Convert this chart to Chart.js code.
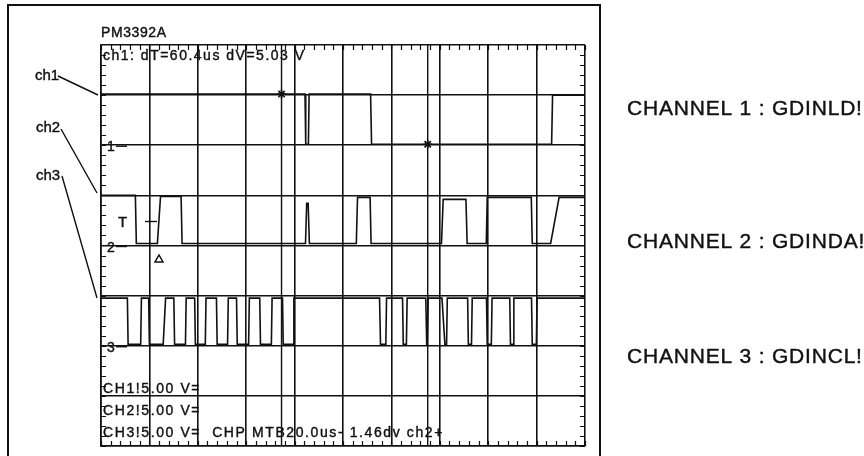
<!DOCTYPE html>
<html>
<head>
<meta charset="utf-8">
<script src="https://cdn.jsdelivr.net/npm/chart.js@4"></script>
<style>html,body{margin:0;padding:0;background:#fff}</style>
</head>
<body>
<canvas id="scope" width="864" height="456"></canvas>
<script>
// time axis in us (20 us/div), levels in volts (5 V/div)
var ch1Time = [0, 84.3, 84.6, 85.7, 86.0, 111.4, 111.8, 186.2, 186.6, 200];
var ch1Volt = [5.1, 5.1, 0.1, 0.1, 5.1, 5.1, 0.1, 0.1, 5.0, 5.0];

var ch2Time = [0, 14.2, 14.6, 23.3, 24.6, 33.1, 33.5, 84.5, 85.0, 85.6, 86.1, 105.5, 106.0, 111.2, 111.6,
               140.7, 141.4, 150.8, 151.3, 159.2, 159.6, 177.8, 178.2, 185.8, 189.3, 200];
var ch2Volt = [5.0, 5.0, 0.2, 0.2, 4.9, 4.9, 0.2, 0.2, 4.2, 4.2, 0.2, 0.2, 4.8, 4.8, 0.2,
               0.2, 4.6, 4.6, 0.2, 0.2, 4.8, 4.8, 0.2, 0.2, 4.8, 4.8];

var ch3Time = [0, 10.9, 11.2, 16.4, 16.7, 19.7, 20.0, 25.7, 26.7, 30.1, 30.4, 34.9, 35.2, 38.7, 39.0, 43.1,
               43.4, 47.7, 48.0, 52.3, 52.6, 56.0, 56.3, 61.0, 61.3, 65.6, 65.9, 70.4, 70.7, 75.0, 75.3, 79.4,
               79.7, 115.1, 115.5, 117.7, 118.0, 124.6, 124.9, 126.2, 126.5, 134.2, 134.6, 134.9, 135.2, 140.9,
               142.1, 142.8, 143.1, 151.5, 151.8, 153.1, 153.4, 159.3, 159.6, 161.3, 161.6, 168.9, 169.2, 170.3,
               170.6, 177.9, 178.2, 179.9, 180.2, 200];
var ch3Volt = [4.75, 4.75, 0.15, 0.15, 4.75, 4.75, 0.15, 0.15, 4.75, 4.75, 0.15, 0.15, 4.75, 4.75, 0.15, 0.15,
               4.75, 4.75, 0.15, 0.15, 4.75, 4.75, 0.15, 0.15, 4.75, 4.75, 0.15, 0.15, 4.75, 4.75, 0.15, 0.15,
               4.75, 4.75, 0.15, 0.15, 4.75, 4.75, 0.15, 0.15, 4.75, 4.75, 0.15, 0.15, 4.75, 4.75,
               0.15, 0.15, 4.75, 4.75, 0.15, 0.15, 4.75, 4.75, 0.15, 0.15, 4.75, 4.75, 0.15, 0.15,
               4.75, 4.75, 0.15, 0.15, 4.75, 4.75];

var cursorTime = [74.6, 135.0];
var cursorVolt = [5.1, 0.1];

var channelGround = [6, 4, 2];   // ground marker of ch1..ch3, in divisions
var voltsPerDiv = 5;
var timeSpan = 200, divsY = 8;

var channelNames = ['CHANNEL 1 : GDINLD!', 'CHANNEL 2 : GDINDA!', 'CHANNEL 3 : GDINCL!'];
var readout = ['CH1!5.00 V=', 'CH2!5.00 V=', 'CH3!5.00 V=  CHP MTB20.0us- 1.46dv ch2+'];

function trace(times, volts, ground) {
    return times.map(function(t, i) {
        return { x: t, y: ground + volts[i] / voltsPerDiv };
    });
}

function cursorLine(t) {
    return [{ x: t, y: 0 }, { x: t, y: divsY }];
}

var lineStyle = { showLine: true, borderColor: '#111', borderWidth: 1.6, pointRadius: 0, tension: 0, fill: false };

// scanned print looks heavy, so text gets a thin outline too
function text(c, s, x, y) {
    c.fillText(s, x, y);
    c.strokeText(s, x, y);
}

var scopeDecor = {
    id: 'scopeDecor',
    beforeDraw: function(chart) {
        var c = chart.ctx;
        c.save();
        c.fillStyle = '#fff';
        c.fillRect(0, 0, chart.width, chart.height);
        c.restore();
    },
    afterDraw: function(chart) {
        var c = chart.ctx, a = chart.chartArea;
        var xs = chart.scales.x, ys = chart.scales.y;
        c.save();
        c.strokeStyle = '#111';
        c.fillStyle = '#111';

        // graticule border ticks
        c.lineWidth = 1.2;
        c.beginPath();
        for (var t = 0; t <= timeSpan; t += 4) {
            var px = Math.round(xs.getPixelForValue(t)) + 0.5;
            c.moveTo(px, a.top); c.lineTo(px, a.top + 5);
            c.moveTo(px, a.bottom); c.lineTo(px, a.bottom - 5);
        }
        for (var d = 0; d <= divsY; d += 0.2) {
            var py = Math.round(ys.getPixelForValue(d)) + 0.5;
            c.moveTo(a.left, py); c.lineTo(a.left + 5, py);
            c.moveTo(a.right, py); c.lineTo(a.right - 5, py);
        }
        c.stroke();

        // outer frame
        c.lineWidth = 2;
        c.strokeRect(8, 5, 592, 470);

        // texts
        c.textBaseline = 'alphabetic';
        c.lineWidth = 0.4;
        c.font = '14px "Liberation Sans", Arial, sans-serif';
        c.letterSpacing = '0.6px';
        text(c, 'PM3392A', a.left, 37);

        c.letterSpacing = '1.5px';
        text(c, 'ch1: dT=60.4us dV=5.03 V', a.left + 2, 60);

        c.font = '14px "Liberation Sans", Arial, sans-serif';
        c.letterSpacing = '1.6px';
        text(c, readout[0], a.left + 2, 393);
        text(c, readout[1], a.left + 2, 415);
        text(c, readout[2], a.left + 2, 437);

        // ground markers
        c.font = '14px "Liberation Sans", Arial, sans-serif';
        c.letterSpacing = '0px';
        channelGround.forEach(function(g, i) {
            var gy = ys.getPixelForValue(g);
            text(c, String(i + 1), a.left + 6, gy + 6);
            c.save();
            c.lineWidth = 1.4;
            c.beginPath(); c.moveTo(a.left + 15, gy + 1); c.lineTo(a.left + 26, gy + 1); c.stroke();
            c.restore();
        });

        // trigger markers
        c.font = '15px "Liberation Sans", Arial, sans-serif';
        text(c, 'T', a.left + 17, 227);
        c.lineWidth = 1.4;
        c.beginPath(); c.moveTo(a.left + 44, 221.5); c.lineTo(a.left + 56, 221.5); c.stroke();
        c.lineWidth = 1.5;
        c.beginPath();
        c.moveTo(a.left + 58, 255); c.lineTo(a.left + 62, 262); c.lineTo(a.left + 54, 262); c.closePath();
        c.stroke();

        // probe labels with leaders
        c.lineWidth = 0.4;
        c.font = '15px "Liberation Sans", Arial, sans-serif';
        text(c, 'ch1', 35, 80);
        text(c, 'ch2', 36, 132);
        text(c, 'ch3', 36, 180);
        c.lineWidth = 1.4;
        c.beginPath();
        c.moveTo(58, 76); c.lineTo(a.left - 3, 95);
        c.moveTo(61, 129); c.lineTo(a.left - 4, 193);
        c.moveTo(62, 176); c.lineTo(a.left - 4, 298);
        c.stroke();

        // channel names
        c.lineWidth = 0.4;
        c.font = '21px "Liberation Sans", Arial, sans-serif';
        c.letterSpacing = '0.8px';
        text(c, channelNames[0], 627, 115);
        text(c, channelNames[1], 627, 248);
        text(c, channelNames[2], 627, 363);
        c.restore();
    }
};

new Chart(document.getElementById('scope').getContext('2d'), {
    type: 'scatter',
    plugins: [scopeDecor],
    data: {
        datasets: [
            Object.assign({ label: 'ch1', data: trace(ch1Time, ch1Volt, channelGround[0]) }, lineStyle),
            Object.assign({ label: 'ch2', data: trace(ch2Time, ch2Volt, channelGround[1]) }, lineStyle),
            Object.assign({ label: 'ch3', data: trace(ch3Time, ch3Volt, channelGround[2]) }, lineStyle),
            Object.assign({ label: 'cursor A', data: cursorLine(cursorTime[0]) }, lineStyle, { borderWidth: 1.4 }),
            Object.assign({ label: 'cursor B', data: cursorLine(cursorTime[1]) }, lineStyle, { borderWidth: 1.4 }),
            {
                label: 'cursor marks',
                data: trace(cursorTime, cursorVolt, channelGround[0]),
                showLine: false,
                pointStyle: 'star',
                pointRadius: 4.5,
                borderColor: '#111',
                borderWidth: 1.6
            }
        ]
    },
    options: {
        responsive: false,
        animation: false,
        devicePixelRatio: 1,
        layout: { padding: { left: 101, right: 279, top: 45, bottom: 10 } },
        plugins: {
            legend: { display: false },
            tooltip: { enabled: false },
            title: { display: false }
        },
        scales: {
            x: {
                type: 'linear',
                min: 0,
                max: timeSpan,
                ticks: { display: false, stepSize: 20 },
                grid: { color: '#111', lineWidth: 1.6, drawTicks: false },
                border: { display: true, color: '#111', width: 1.6 }
            },
            y: {
                type: 'linear',
                min: 0,
                max: divsY,
                ticks: { display: false, stepSize: 1 },
                grid: { color: '#111', lineWidth: 1.6, drawTicks: false },
                border: { display: true, color: '#111', width: 1.6 }
            }
        }
    }
});
</script>
</body>
</html>
